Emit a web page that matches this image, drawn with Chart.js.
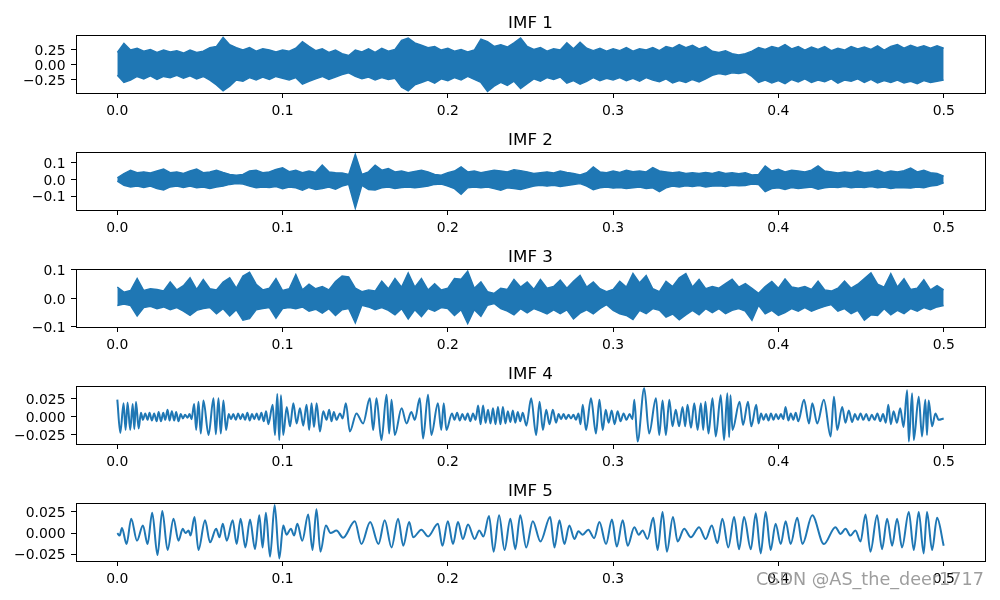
<!DOCTYPE html>
<html>
<head>
<meta charset="utf-8">
<script src="https://cdn.jsdelivr.net/npm/chart.js@4.4.1/dist/chart.umd.min.js"></script>
<style>
  html, body { margin: 0; padding: 0; background: #fff; }
  #wrap { position: relative; width: 1000px; height: 600px; overflow: hidden; }
  #wrap canvas { position: absolute; left: 0; }
  #mark { position: absolute; left: 756px; top: 569px; font: 17.6px "DejaVu Sans", sans-serif;
          color: rgba(140,140,140,0.85); white-space: nowrap; }
</style>
</head>
<body>
<div id="wrap">
  <canvas id="c1" width="1000" height="117" style="top:0px"></canvas>
  <canvas id="c2" width="1000" height="117" style="top:117px"></canvas>
  <canvas id="c3" width="1000" height="117" style="top:234px"></canvas>
  <canvas id="c4" width="1000" height="117" style="top:351px"></canvas>
  <canvas id="c5" width="1000" height="117" style="top:468px"></canvas>
  <div id="mark">CSDN @AS_the_deer1717</div>
</div>
<script>
// x axis (time, s)
const xTicks = [0, 0.1, 0.2, 0.3, 0.4, 0.5];
const xTickLabels = ['0.0', '0.1', '0.2', '0.3', '0.4', '0.5'];

// IMF 1-3 are very dense, so they are kept as upper / lower envelopes sampled every 4 ms
const imf1Upper = [0.20,0.35,0.24,0.27,0.22,0.25,0.20,0.24,0.21,0.23,
  0.19,0.24,0.20,0.22,0.28,0.30,0.45,0.33,0.28,0.24,
  0.28,0.22,0.26,0.24,0.21,0.24,0.22,0.27,0.38,0.30,
  0.23,0.26,0.20,0.24,0.18,0.15,0.24,0.21,0.26,0.20,
  0.27,0.22,0.25,0.40,0.44,0.36,0.32,0.28,0.30,0.24,
  0.27,0.22,0.25,0.21,0.24,0.42,0.38,0.30,0.33,0.29,
  0.36,0.44,0.30,0.25,0.28,0.22,0.26,0.24,0.36,0.26,
  0.37,0.27,0.23,0.27,0.22,0.26,0.23,0.28,0.22,0.26,
  0.24,0.28,0.23,0.30,0.27,0.33,0.28,0.32,0.26,0.30,
  0.22,0.20,0.23,0.18,0.16,0.18,0.22,0.28,0.25,0.30,
  0.27,0.33,0.26,0.30,0.24,0.29,0.25,0.30,0.23,0.27,
  0.24,0.30,0.26,0.29,0.25,0.31,0.24,0.30,0.33,0.27,
  0.32,0.28,0.31,0.27,0.31,0.27];
const imf1Lower = [-0.18,-0.30,-0.26,-0.20,-0.24,-0.19,-0.25,-0.20,-0.22,-0.18,
  -0.23,-0.19,-0.24,-0.20,-0.26,-0.34,-0.44,-0.36,-0.26,-0.28,
  -0.22,-0.26,-0.21,-0.25,-0.20,-0.23,-0.26,-0.22,-0.33,-0.28,
  -0.24,-0.20,-0.25,-0.21,-0.17,-0.14,-0.20,-0.24,-0.21,-0.26,
  -0.22,-0.25,-0.23,-0.38,-0.44,-0.34,-0.30,-0.26,-0.31,-0.24,
  -0.27,-0.22,-0.26,-0.20,-0.25,-0.30,-0.45,-0.36,-0.30,-0.35,
  -0.28,-0.40,-0.32,-0.24,-0.28,-0.22,-0.25,-0.21,-0.31,-0.27,
  -0.33,-0.28,-0.22,-0.27,-0.23,-0.26,-0.22,-0.27,-0.23,-0.28,
  -0.22,-0.26,-0.29,-0.24,-0.31,-0.27,-0.30,-0.25,-0.29,-0.24,
  -0.18,-0.15,-0.17,-0.14,-0.15,-0.13,-0.20,-0.30,-0.26,-0.31,
  -0.27,-0.32,-0.25,-0.29,-0.24,-0.30,-0.26,-0.29,-0.24,-0.31,
  -0.26,-0.28,-0.24,-0.30,-0.25,-0.31,-0.27,-0.30,-0.26,-0.31,
  -0.28,-0.32,-0.27,-0.30,-0.28,-0.26];

const imf2Upper = [0.010,0.035,0.055,0.040,0.045,0.038,0.050,0.062,0.040,0.045,
  0.036,0.050,0.062,0.040,0.044,0.055,0.042,0.030,0.025,0.030,
  0.050,0.055,0.040,0.045,0.060,0.070,0.046,0.055,0.040,0.050,
  0.042,0.085,0.045,0.040,0.038,0.030,0.149,0.030,0.045,0.085,
  0.055,0.065,0.045,0.050,0.040,0.048,0.055,0.045,0.030,0.025,
  0.040,0.050,0.075,0.045,0.050,0.040,0.048,0.055,0.050,0.045,
  0.058,0.052,0.045,0.035,0.040,0.045,0.038,0.050,0.042,0.036,
  0.026,0.040,0.075,0.045,0.040,0.050,0.042,0.055,0.046,0.050,
  0.045,0.070,0.050,0.045,0.040,0.045,0.036,0.040,0.035,0.042,
  0.036,0.045,0.035,0.040,0.034,0.040,0.026,0.030,0.080,0.050,
  0.060,0.045,0.055,0.050,0.045,0.055,0.080,0.050,0.045,0.038,
  0.045,0.040,0.050,0.040,0.045,0.055,0.040,0.050,0.045,0.052,
  0.068,0.045,0.055,0.040,0.035,0.020];
const imf2Lower = [-0.010,-0.035,-0.045,-0.040,-0.048,-0.040,-0.055,-0.063,-0.045,-0.040,
  -0.048,-0.040,-0.050,-0.045,-0.055,-0.045,-0.040,-0.030,-0.024,-0.028,
  -0.040,-0.050,-0.045,-0.048,-0.042,-0.055,-0.045,-0.050,-0.065,-0.048,
  -0.060,-0.055,-0.045,-0.058,-0.040,-0.030,-0.172,-0.035,-0.060,-0.063,
  -0.050,-0.045,-0.055,-0.048,-0.045,-0.050,-0.045,-0.040,-0.030,-0.028,
  -0.040,-0.055,-0.089,-0.050,-0.045,-0.050,-0.045,-0.055,-0.065,-0.050,
  -0.055,-0.060,-0.050,-0.040,-0.035,-0.040,-0.035,-0.042,-0.036,-0.030,
  -0.025,-0.040,-0.062,-0.050,-0.045,-0.052,-0.048,-0.055,-0.050,-0.045,
  -0.055,-0.050,-0.073,-0.050,-0.040,-0.045,-0.038,-0.042,-0.036,-0.045,
  -0.040,-0.038,-0.042,-0.035,-0.038,-0.036,-0.028,-0.030,-0.073,-0.055,
  -0.050,-0.060,-0.048,-0.055,-0.050,-0.045,-0.058,-0.050,-0.045,-0.048,
  -0.042,-0.050,-0.045,-0.048,-0.042,-0.050,-0.045,-0.055,-0.048,-0.050,
  -0.052,-0.046,-0.050,-0.040,-0.035,-0.020];

const imf3Upper = [0.040,0.022,0.028,0.070,0.028,0.034,0.032,0.026,0.058,0.030,
  0.045,0.073,0.032,0.067,0.034,0.030,0.058,0.073,0.036,0.079,
  0.092,0.050,0.030,0.036,0.070,0.028,0.034,0.084,0.030,0.050,
  0.034,0.042,0.030,0.060,0.079,0.076,0.036,0.024,0.030,0.026,
  0.061,0.034,0.070,0.040,0.090,0.040,0.070,0.030,0.052,0.030,
  0.036,0.070,0.068,0.096,0.036,0.058,0.024,0.018,0.036,0.032,
  0.067,0.040,0.058,0.032,0.067,0.036,0.042,0.065,0.036,0.060,
  0.081,0.040,0.058,0.034,0.024,0.032,0.060,0.040,0.088,0.055,
  0.081,0.034,0.024,0.060,0.042,0.073,0.088,0.040,0.067,0.034,
  0.042,0.036,0.052,0.068,0.040,0.052,0.036,0.018,0.042,0.060,
  0.036,0.069,0.040,0.036,0.042,0.032,0.061,0.030,0.026,0.036,
  0.061,0.036,0.050,0.070,0.090,0.050,0.040,0.087,0.040,0.069,
  0.032,0.036,0.066,0.030,0.045,0.030];
const imf3Lower = [-0.025,-0.020,-0.025,-0.062,-0.032,-0.028,-0.036,-0.030,-0.040,-0.032,
  -0.045,-0.060,-0.042,-0.036,-0.032,-0.054,-0.036,-0.062,-0.040,-0.077,
  -0.071,-0.040,-0.036,-0.032,-0.070,-0.036,-0.032,-0.036,-0.030,-0.045,
  -0.038,-0.052,-0.036,-0.060,-0.040,-0.036,-0.086,-0.024,-0.030,-0.040,
  -0.032,-0.042,-0.058,-0.036,-0.072,-0.040,-0.064,-0.036,-0.045,-0.032,
  -0.036,-0.060,-0.040,-0.089,-0.040,-0.063,-0.024,-0.018,-0.036,-0.045,
  -0.058,-0.036,-0.051,-0.036,-0.045,-0.055,-0.040,-0.054,-0.040,-0.072,
  -0.052,-0.040,-0.054,-0.036,-0.022,-0.042,-0.054,-0.060,-0.074,-0.042,
  -0.054,-0.036,-0.042,-0.066,-0.055,-0.075,-0.058,-0.042,-0.058,-0.036,
  -0.050,-0.036,-0.054,-0.042,-0.036,-0.045,-0.077,-0.024,-0.054,-0.042,
  -0.060,-0.050,-0.036,-0.045,-0.032,-0.045,-0.036,-0.028,-0.022,-0.045,
  -0.036,-0.054,-0.042,-0.077,-0.058,-0.060,-0.036,-0.058,-0.042,-0.054,
  -0.036,-0.045,-0.032,-0.040,-0.030,-0.025];

// IMF 4 and 5: peaks and troughs as [time, value]
const imf4 = [[0,0.024],[0.0018,-0.022],[0.0038,0.019],[0.0050,-0.018],[0.0062,0.020],[0.0078,-0.018],[0.0093,0.018],[0.0103,-0.017],[0.0113,0.021],[0.0129,-0.016],
  [0.0143,0.006],[0.0155,-0.004],[0.0169,0.005],[0.0183,-0.004],[0.0195,0.006],[0.0209,-0.005],[0.0223,0.005],[0.0238,-0.006],[0.0250,0.007],[0.0264,-0.006],
  [0.0278,0.006],[0.0290,-0.004],[0.0304,0.010],[0.0316,-0.005],[0.0330,0.008],[0.0344,-0.005],[0.0356,0.007],[0.0370,-0.006],[0.0384,0.004],[0.0397,-0.002],
  [0.0410,0.003],[0.0425,-0.001],[0.0437,0.004],[0.0449,-0.003],[0.0465,0.018],[0.0477,-0.018],[0.0491,0.021],[0.0505,-0.023],[0.0521,0.023],[0.0552,-0.025],
  [0.0582,0.026],[0.0596,-0.024],[0.0612,0.026],[0.0626,-0.023],[0.0642,0.023],[0.0658,-0.018],
  [0.0674,0.004],[0.0688,-0.003],[0.0702,0.004],[0.0717,-0.004],[0.0731,0.005],[0.0745,-0.003],[0.0759,0.004],[0.0773,-0.004],[0.0787,0.006],[0.0801,-0.005],
  [0.0815,0.004],[0.0829,-0.003],[0.0843,0.005],[0.0857,-0.004],[0.0872,0.006],[0.0886,-0.006],[0.0900,0.008],[0.0914,-0.010],[0.0940,0.017],[0.0954,-0.025],
  [0.0968,0.032],[0.0980,-0.032],[0.0990,0.030],[0.1004,-0.025],[0.1025,0.014],[0.1045,-0.013],[0.1065,0.019],[0.1085,-0.009],[0.1105,0.012],[0.1125,-0.012],
  [0.1145,0.017],[0.1161,-0.018],[0.1175,0.019],[0.1190,-0.014],[0.1206,0.019],[0.1226,-0.020],[0.1246,0.008],[0.1266,-0.004],[0.1282,0.010],[0.1296,-0.006],
  [0.1310,0.007],[0.1326,-0.004],[0.1347,0.005],[0.1363,-0.002],[0.1383,0.019],[0.1407,-0.020],[0.1447,0.005],[0.1487,-0.009],[0.1528,0.026],[0.1548,-0.018],
  [0.1568,0.026],[0.1598,-0.032],[0.1629,0.031],[0.1645,-0.023],[0.1659,0.024],[0.1679,-0.025],[0.1720,0.012],[0.1750,-0.009],[0.1779,0.007],[0.1800,-0.004],
  [0.1830,0.026],[0.1850,-0.030],[0.1880,0.031],[0.1900,-0.025],[0.1940,0.019],[0.1960,-0.018],[0.1975,0.019],[0.1991,-0.018],
  [0.2025,0.005],[0.2040,-0.004],[0.2056,0.006],[0.2072,-0.005],[0.2088,0.004],[0.2104,-0.004],[0.2120,0.005],[0.2136,-0.006],[0.2152,0.005],[0.2168,-0.004],
  [0.2183,0.016],[0.2198,-0.010],[0.2213,0.016],[0.2228,-0.008],[0.2243,0.010],[0.2258,-0.009],[0.2273,0.012],[0.2288,-0.010],[0.2303,0.014],[0.2318,-0.010],
  [0.2333,0.014],[0.2348,-0.009],[0.2363,0.008],[0.2378,-0.007],[0.2393,0.009],[0.2408,-0.008],[0.2423,0.007],[0.2438,-0.006],[0.2453,0.006],[0.2475,-0.012],
  [0.2504,0.026],[0.2534,-0.025],[0.2555,0.021],[0.2575,-0.018],[0.2595,0.010],[0.2615,-0.010],[0.2635,0.010],[0.2655,-0.008],
  [0.2670,0.004],[0.2685,-0.003],[0.2700,0.004],[0.2715,-0.003],[0.2730,0.003],[0.2745,-0.002],[0.2760,0.003],[0.2775,-0.004],[0.2790,0.005],[0.2803,-0.010],
  [0.2816,0.017],[0.2836,-0.018],[0.2866,0.026],[0.2896,-0.023],[0.2917,0.024],[0.2937,-0.018],
  [0.2955,0.010],[0.2973,-0.008],[0.2991,0.009],[0.3009,-0.010],[0.3027,0.008],[0.3045,-0.006],[0.3063,0.005],[0.3081,-0.004],[0.3099,0.004],[0.3117,-0.003],
  [0.3128,0.024],[0.3148,-0.034],[0.3188,0.040],[0.3218,-0.023],[0.3259,0.026],[0.3279,-0.025],[0.3299,0.023],[0.3319,-0.025],[0.3340,0.024],[0.3359,-0.013],
  [0.3379,0.010],[0.3399,-0.013],[0.3420,0.014],[0.3436,-0.013],[0.3450,0.017],[0.3471,-0.015],[0.3491,0.019],[0.3511,-0.018],[0.3531,0.019],[0.3545,-0.018],
  [0.3558,0.021],[0.3577,-0.023],[0.3601,0.026],[0.3621,-0.027],[0.3651,0.030],[0.3671,-0.032],[0.3691,0.033],[0.3702,-0.028],[0.3710,0.030],[0.3722,-0.018],
  [0.3765,0.021],[0.3786,-0.011],[0.3816,0.021],[0.3836,-0.013],[0.3866,0.017],[0.3880,-0.009],
  [0.3895,0.005],[0.3910,-0.004],[0.3925,0.004],[0.3940,-0.005],[0.3955,0.005],[0.3970,-0.004],[0.3985,0.004],[0.4000,-0.003],[0.4015,0.004],[0.4030,-0.003],
  [0.4043,0.014],[0.4060,-0.005],[0.4075,0.005],[0.4090,-0.004],[0.4105,0.006],[0.4120,-0.006],[0.4155,0.024],[0.4185,-0.009],[0.4205,0.019],[0.4235,-0.009],
  [0.4275,0.024],[0.4316,-0.027],[0.4336,0.028],[0.4356,-0.018],[0.4386,0.014],[0.4406,-0.008],[0.4426,0.009],[0.4446,-0.007],
  [0.4463,0.004],[0.4480,-0.004],[0.4497,0.005],[0.4514,-0.004],[0.4531,0.004],[0.4548,-0.005],[0.4565,0.003],[0.4582,-0.004],[0.4599,0.005],[0.4616,-0.006],
  [0.4633,0.004],[0.4650,-0.008],[0.4665,0.017],[0.4680,-0.010],[0.4697,0.008],[0.4717,-0.008],[0.4737,0.012],[0.4757,-0.014],[0.4779,0.037],[0.4789,-0.034],
  [0.4809,0.033],[0.4819,-0.032],[0.4849,0.028],[0.4869,-0.027],[0.4889,0.024],[0.4899,-0.025],[0.4909,0.023],[0.4930,-0.013],[0.4950,0.005],[0.4970,-0.004],[0.5000,-0.002]];

const imf5 = [[0,0.000],[0.0014,-0.003],[0.0028,0.006],[0.0056,-0.013],[0.0084,0.017],[0.0119,-0.009],[0.0155,0.009],[0.0183,-0.013],[0.0211,0.024],[0.0243,-0.026],
  [0.0272,0.026],[0.0304,-0.020],[0.0340,0.017],[0.0370,-0.009],[0.0396,0.005],[0.0412,0.000],[0.0431,0.003],[0.0443,-0.003],[0.0467,0.019],[0.0491,-0.020],
  [0.0531,0.015],[0.0561,-0.011],[0.0598,0.005],[0.0618,-0.005],[0.0638,0.011],[0.0662,-0.009],[0.0698,0.015],[0.0722,-0.013],[0.0746,0.017],[0.0775,-0.017],
  [0.0803,0.016],[0.0833,-0.019],[0.0859,0.021],[0.0879,-0.017],[0.0899,0.024],[0.0924,-0.028],[0.0952,0.033],[0.0980,-0.030],[0.1004,0.009],[0.1024,-0.002],
  [0.1050,0.005],[0.1070,-0.003],[0.1089,0.011],[0.1119,-0.009],[0.1155,0.022],[0.1181,-0.020],[0.1205,0.028],[0.1229,-0.022],[0.1262,0.009],[0.1290,0.000],
  [0.1326,0.003],[0.1366,-0.0055],[0.1437,0.014],[0.1477,-0.013],[0.1530,0.013],[0.1580,-0.013],[0.1618,0.015],[0.1659,-0.017],[0.1699,0.017],[0.1730,-0.015],
  [0.1766,0.013],[0.1790,-0.005],[0.1840,0.004],[0.1880,-0.004],[0.1940,0.011],[0.1967,-0.015],[0.2000,0.014],[0.2031,-0.013],[0.2061,0.013],[0.2091,-0.007],
  [0.2122,0.010],[0.2162,-0.007],[0.2190,0.003],[0.2215,-0.004],[0.2249,0.020],[0.2277,-0.022],[0.2310,0.021],[0.2343,-0.020],[0.2378,0.017],[0.2408,-0.019],
  [0.2438,0.021],[0.2474,-0.017],[0.2514,0.014],[0.2560,-0.010],[0.2619,0.019],[0.2645,-0.017],[0.2675,0.015],[0.2705,-0.013],[0.2735,0.009],[0.2766,-0.007],
  [0.2790,0.002],[0.2816,-0.002],[0.2850,0.004],[0.2885,-0.006],[0.2917,0.013],[0.2957,-0.013],[0.2993,0.016],[0.3022,-0.016],[0.3058,0.015],[0.3088,-0.015],
  [0.3128,0.007],[0.3155,-0.002],[0.3178,0.003],[0.3208,-0.007],[0.3243,0.018],[0.3269,-0.020],[0.3299,0.025],[0.3325,-0.022],[0.3362,0.019],[0.3390,-0.010],
  [0.3430,0.005],[0.3470,-0.005],[0.3520,0.007],[0.3560,-0.007],[0.3597,0.009],[0.3631,-0.012],[0.3661,0.017],[0.3697,-0.017],[0.3732,0.019],[0.3762,-0.019],
  [0.3792,0.019],[0.3833,-0.019],[0.3863,0.023],[0.3893,-0.024],[0.3923,0.025],[0.3953,-0.020],[0.3983,0.011],[0.4014,-0.013],[0.4044,0.014],[0.4074,-0.013],
  [0.4114,0.018],[0.4145,-0.013],[0.4205,0.021],[0.4275,-0.013],[0.4345,0.007],[0.4376,-0.001],[0.4406,0.005],[0.4436,-0.003],[0.4466,0.003],[0.4497,-0.010],
  [0.4527,0.022],[0.4557,-0.022],[0.4597,0.021],[0.4627,-0.019],[0.4658,0.017],[0.4688,-0.015],[0.4718,0.017],[0.4748,-0.017],[0.4789,0.025],[0.4819,-0.020],
  [0.4849,0.025],[0.4879,-0.024],[0.4899,0.025],[0.4930,-0.020],[0.4960,0.018],[0.5000,-0.015]];

// y tick values and their labels for each panel
const imf1Ticks = [-0.25, 0, 0.25];
const imf1TickLabels = ['\u22120.25', '0.00', '0.25'];
const imf2Ticks = [-0.1, 0, 0.1];
const imf2TickLabels = ['\u22120.1', '0.0', '0.1'];
const imf3Ticks = [-0.1, 0, 0.1];
const imf3TickLabels = ['\u22120.1', '0.0', '0.1'];
const imf4Ticks = [-0.025, 0, 0.025];
const imf4TickLabels = ['\u22120.025', '0.000', '0.025'];
const imf5Ticks = [-0.025, 0, 0.025];
const imf5TickLabels = ['\u22120.025', '0.000', '0.025'];

const BLUE = '#1f77b4';
const TICK_FONT = '13.9px "DejaVu Sans"';

function timeGrid(n) {
  return Array.from({ length: n }, (_, i) => i * 0.5 / (n - 1));
}

function bandSets(upper, lower) {
  const t = timeGrid(upper.length);
  const common = { borderColor: BLUE, backgroundColor: BLUE, borderWidth: 1.4, pointRadius: 0, tension: 0 };
  return [
    { ...common, data: upper.map((v, i) => ({ x: t[i], y: v })), fill: '+1' },
    { ...common, data: lower.map((v, i) => ({ x: t[i], y: v })), fill: false }
  ];
}

function curveSets(pairs) {
  return [{
    data: pairs.map(p => ({ x: p[0], y: p[1] })),
    borderColor: BLUE, borderWidth: 2, pointRadius: 0,
    cubicInterpolationMode: 'monotone', fill: false
  }];
}

// axes box, title and tick labels, drawn on top of the data like matplotlib
const framePlugin = {
  id: 'frame',
  afterDatasetsDraw(chart, args, opts) {
    const { ctx, chartArea: a, scales } = chart;
    ctx.save();
    ctx.strokeStyle = '#000';
    ctx.lineWidth = 1;
    ctx.strokeRect(a.left + 0.5, a.top + 0.5, a.right - a.left, a.bottom - a.top);
    ctx.fillStyle = '#000';
    ctx.font = '16.7px "DejaVu Sans"';
    ctx.textAlign = 'center';
    ctx.textBaseline = 'alphabetic';
    ctx.fillText(opts.text, (a.left + a.right) / 2, a.top - 7.5);

    ctx.font = TICK_FONT;
    ctx.textAlign = 'right';
    opts.yTicks.forEach((v, i) => {
      ctx.fillText(opts.yLabels[i], a.left - 10.5, scales.y.getPixelForValue(v) + 5.2);
    });
    ctx.textAlign = 'center';
    xTicks.forEach((v, i) => {
      ctx.fillText(xTickLabels[i], scales.x.getPixelForValue(v), a.bottom + 21.5);
    });
    ctx.restore();
  }
};

function makePanel(id, title, datasets, yMin, yMax, yTicks, yLabels) {
  const tickMarks = { drawOnChartArea: false, drawTicks: true, tickLength: 5, color: '#000', lineWidth: 1 };
  const hidden = { color: 'rgba(0,0,0,0)', autoSkip: false, maxRotation: 0 };
  new Chart(document.getElementById(id), {
    type: 'line',
    data: { datasets },
    plugins: [framePlugin],
    options: {
      responsive: false,
      animation: false,
      devicePixelRatio: 1,
      events: [],
      layout: { padding: { top: 35, right: 15, left: 0, bottom: 0 } },
      plugins: {
        legend: { display: false },
        tooltip: { enabled: false },
        frame: { text: title, yTicks, yLabels }
      },
      scales: {
        x: {
          type: 'linear', min: -0.025, max: 0.525,
          afterFit: s => { s.height = 24; },
          afterBuildTicks: s => { s.ticks = xTicks.map(v => ({ value: v })); },
          ticks: hidden,
          grid: tickMarks,
          border: { display: false }
        },
        y: {
          min: yMin, max: yMax,
          afterFit: s => { s.width = 76; },
          afterBuildTicks: s => { s.ticks = yTicks.map(v => ({ value: v })); },
          ticks: hidden,
          grid: tickMarks,
          border: { display: false }
        }
      }
    }
  });
}

makePanel('c1', 'IMF 1', bandSets(imf1Upper, imf1Lower), -0.475, 0.49, imf1Ticks, imf1TickLabels);
makePanel('c2', 'IMF 2', bandSets(imf2Upper, imf2Lower), -0.182, 0.163, imf2Ticks, imf2TickLabels);
makePanel('c3', 'IMF 3', bandSets(imf3Upper, imf3Lower), -0.1005, 0.1035, imf3Ticks, imf3TickLabels);
makePanel('c4', 'IMF 4', curveSets(imf4), -0.0375, 0.043, imf4Ticks, imf4TickLabels);
makePanel('c5', 'IMF 5', curveSets(imf5), -0.033, 0.0355, imf5Ticks, imf5TickLabels);
</script>
</body>
</html>
